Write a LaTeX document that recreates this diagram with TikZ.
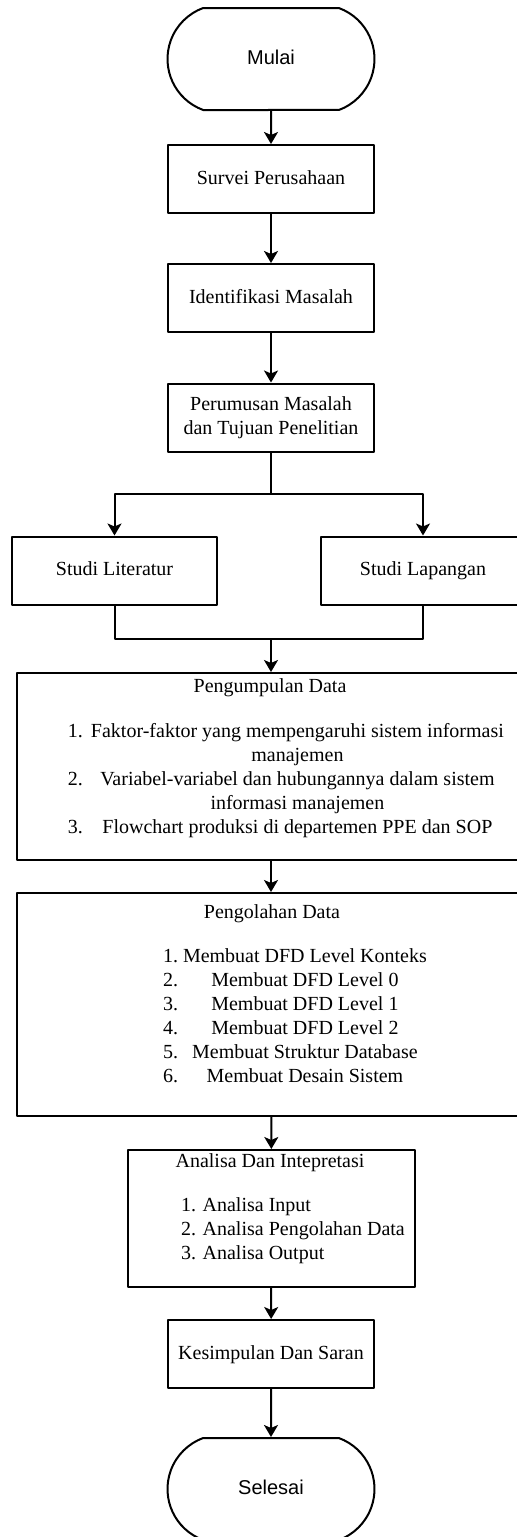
\documentclass[tikz,border=0pt]{standalone}
\usepackage{fontspec}
\setmainfont{Liberation Serif}
\setsansfont{Liberation Sans}
\usetikzlibrary{arrows.meta,shapes.misc}
\tikzset{
	kotak/.style={draw, rectangle, minimum width=103pt, minimum height=34pt, inner sep=0pt, align=center},
	baris/.style={kotak, text height=7pt, text depth=2pt},
	terminal/.style={draw, rounded rectangle, rounded rectangle arc length=140, minimum width=103.5pt, minimum height=51pt, inner sep=0pt, font=\sffamily, text height=7pt, text depth=2pt},
	teks/.style={inner sep=0pt}
}
\begin{document}
\begin{tikzpicture}[x=0.5pt,y=-0.5pt,>={Stealth[length=6pt,width=7pt,inset=1.5pt]}, line width=1pt, line join=round]
	\def\cx{271} \def\kiri{114.5} \def\kanan{423} % sumbu
	\useasboundingbox (0,0) rectangle (517,1537);
	\clip (0,0) rectangle (517,1537);
	\node[terminal] (mulai) at (\cx,59) {Mulai};
	\node[baris] (survei) at (\cx,179) {Survei Perusahaan};
	\node[baris] (identifikasi) at (\cx,298) {Identifikasi Masalah};
	\node[kotak] (perumusan) at (\cx,417.5) {Perumusan Masalah\\dan Tujuan Penelitian};
	\node[baris,minimum width=102.5pt] (literatur) at (\kiri,570.5) {Studi Literatur};
	\node[baris,minimum width=102.5pt] (lapangan) at (\kanan,570.5) {Studi Lapangan};
	\coordinate (cabang) at (\cx,494);
	\coordinate (gabung) at (\cx,639);
	% pengumpulan data
	\node[kotak,minimum width=254pt,minimum height=93.5pt] (kumpul) at (\cx,766.5) {};
	\node[teks] (kumpulJudul) at (270,688) {Pengumpulan Data};
	\node[teks,anchor=west] (kumpulIsi) at (67,781) {\begin{tabular}{@{}l@{\hspace{4pt}}c@{}}
		1. & Faktor-faktor yang mempengaruhi sistem informasi\\
		& manajemen\\
		2. & Variabel-variabel dan hubungannya dalam sistem\\
		& informasi manajemen\\
		3. & Flowchart produksi di departemen PPE dan SOP
	\end{tabular}};
	% pengolahan data
	\node[kotak,minimum width=254pt,minimum height=111.5pt] (olah) at (\cx,1004.5) {};
	\node[teks] (olahJudul) at (272,914) {Pengolahan Data};
	\node[teks,anchor=west] (olahIsi) at (162,1018) {\begin{tabular}{@{}l@{\hspace{2.5pt}}c@{}}
		1. & Membuat DFD Level Konteks\\
		2. & Membuat DFD Level 0\\
		3. & Membuat DFD Level 1\\
		4. & Membuat DFD Level 2\\
		5. & Membuat Struktur Database\\
		6. & Membuat Desain Sistem
	\end{tabular}};
	% analisa
	\node[kotak,minimum width=143.5pt,minimum height=68.5pt] (analisa) at (271.5,1218.5) {};
	\node[teks] (analisaJudul) at (270,1163) {Analisa Dan Intepretasi};
	\node[teks,anchor=west,align=left] (analisaIsi) at (180,1231) {1. Analisa Input\\2. Analisa Pengolahan Data\\3. Analisa Output};
	\node[baris] (simpulan) at (\cx,1354) {Kesimpulan Dan Saran};
	\node[terminal] (selesai) at (\cx,1489) {Selesai};
	% panah
	\draw[->] (mulai) -- (survei);
	\draw[->] (survei) -- (identifikasi);
	\draw[->] (identifikasi) -- (perumusan);
	\draw[->] (perumusan) -- (cabang) -| (literatur);
	\draw[->] (cabang) -| (lapangan);
	\draw (literatur) |- (gabung);
	\draw (lapangan) |- (gabung);
	\draw[->] (gabung) -- (kumpul);
	\draw[->] (kumpul) -- (olah);
	\draw[->] (olah) -- (analisa);
	\draw[->] (analisa) -- (simpulan);
	\draw[->] (simpulan) -- (selesai);
\end{tikzpicture}
\end{document}
